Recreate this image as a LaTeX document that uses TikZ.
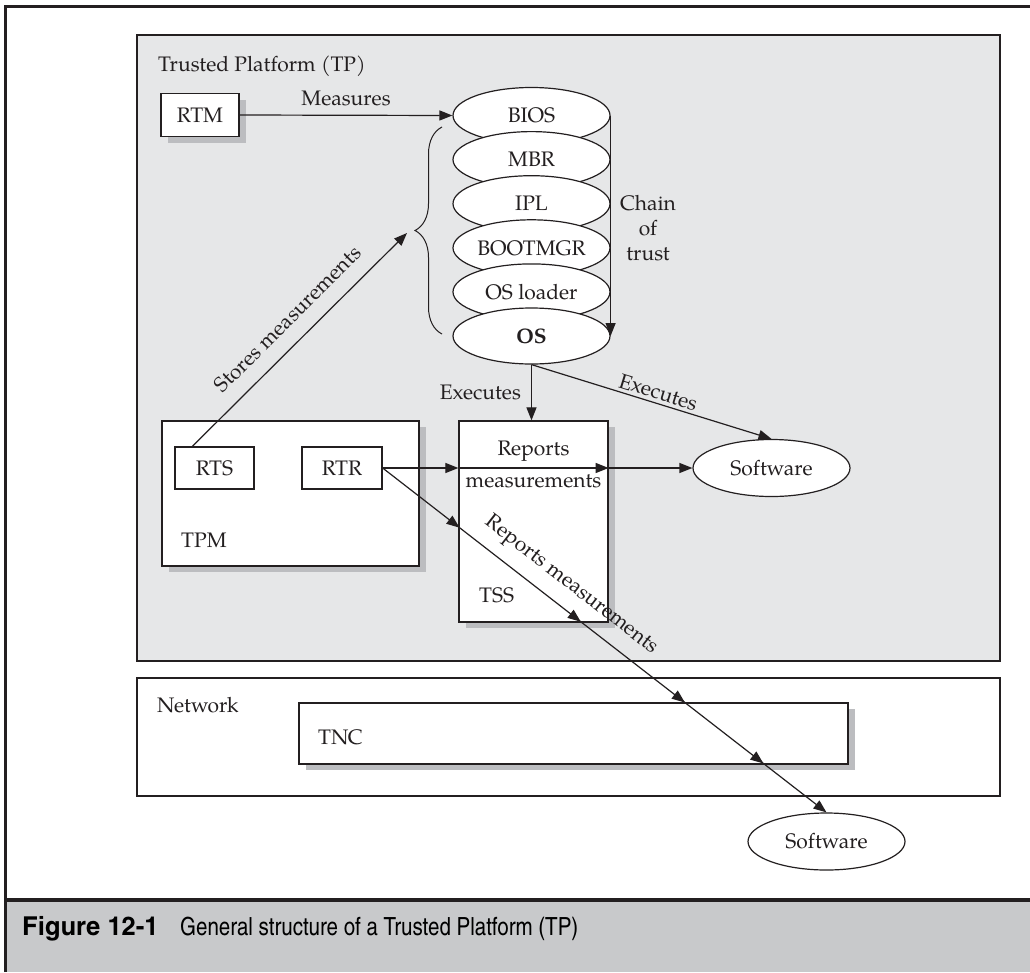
\documentclass[tikz,border=0pt]{standalone}
\usepackage{fontspec}
\usepackage{graphicx}
\setmainfont{texgyrepagella}[Extension=.otf, UprightFont=*-regular, BoldFont=*-bold, ItalicFont=*-italic, BoldItalicFont=*-bolditalic]
\newfontfamily\capfont{texgyreheroscn}[Extension=.otf, UprightFont=*-regular, BoldFont=*-bold, ItalicFont=*-italic, BoldItalicFont=*-bolditalic]
\usetikzlibrary{arrows.meta, shapes.geometric, shadows, decorations.pathreplacing, decorations.markings, calc}

\definecolor{linec}{HTML}{231F20}
\definecolor{tpfill}{HTML}{E6E7E8}
\definecolor{shadowc}{HTML}{BCBDC0}
\definecolor{capfill}{HTML}{C8C9CB}

\tikzset{
 >={Triangle[length=13pt,width=10pt]},
 every node/.style={font=\fontsize{21}{25}\selectfont, text=linec},
 box/.style={draw=linec, fill=white, line width=1.3pt, rectangle, inner sep=0pt},
 shadowbox/.style={box, drop shadow={shadow xshift=7pt, shadow yshift=-6pt, fill=shadowc, opacity=1}},
 areabox/.style={draw=linec, line width=1.3pt, rectangle, inner sep=0pt},
 oval/.style={ellipse, draw=linec, fill=white, line width=1.2pt, inner sep=0pt, minimum width=157pt, minimum height=56pt},
 conn/.style={draw=linec, line width=1.2pt, ->},
 lbl/.style={inner sep=0pt},
}

\begin{document}
\begin{tikzpicture}[x=1pt, y=-1pt]
\useasboundingbox (0,0) rectangle (1030,972);
\fill[white] (0,0) rectangle (1030,972);

% caption band and outer frame
\fill[capfill] (5,900) rectangle (1030,972);
\draw[linec, line width=3.5pt] (5,900) -- (1030,900);
\draw[linec, line width=3pt] (5,972) -- (5,6) -- (1030,6);
\node[anchor=base west, inner sep=0pt, text=black, font=\capfont\fontsize{26}{30}\selectfont\bfseries] (figno) at (22,935) {\scalebox{1.2}[1]{Figure 12-1}};
\node[anchor=base west, inner sep=0pt, text=black, font=\capfont\fontsize{25}{30}\selectfont] (figcap) at (180,935) {General structure of a Trusted Platform (TP)};

% areas
\node[areabox, fill=tpfill, minimum width=863pt, minimum height=626pt] (TP) at (568.5,348) {};
\node[lbl, anchor=base west] (tplabel) at (158,71) {Trusted Platform (TP)};
\node[areabox, fill=white, minimum width=863pt, minimum height=118pt] (NET) at (568.5,737) {};
\node[lbl, anchor=west] (netlabel) at (157,705) {Network};

% boxes
\node[shadowbox, minimum width=78pt, minimum height=43pt] (RTM) at (200,115) {RTM};
\node[shadowbox, minimum width=257pt, minimum height=145pt] (TPM) at (290.5,493.5) {};
\node[lbl, anchor=west] (tpmlabel) at (181,540) {TPM};
\node[box, minimum width=79pt, minimum height=42pt] (RTS) at (214.5,468) {RTS};
\node[box, minimum width=80pt, minimum height=42pt] (RTR) at (342,468) {RTR};
\node[shadowbox, minimum width=149pt, minimum height=201pt] (TSS) at (533.5,521.5) {};
\node[lbl, anchor=west] (tsslabel) at (479,595) {TSS};
\node[shadowbox, minimum width=549pt, minimum height=61pt] (TNC) at (573.5,733.5) {};
\node[lbl, anchor=west] (tnclabel) at (318,737) {TNC};

% boot chain
\node[oval] (BIOS) at (531.5,115.5) {BIOS};
\node[oval] (MBR) at (531.5,159.6) {MBR};
\node[oval] (IPL) at (531.5,203.7) {IPL};
\node[oval] (BOOT) at (531.5,247.8) {BOOTMGR};
\node[oval] (OSL) at (531.5,291.9) {OS loader};
\node[oval] (OS) at (531.5,336) {\textbf{OS}};
\node[lbl, align=center] (chain) at (648,228) {Chain\\of\\trust};

% software
\node[oval, minimum height=57pt] (SW1) at (771.5,468) {Software};
\node[oval, minimum height=57pt] (SW2) at (826.5,841.5) {Software};

% brace
\coordinate (braceB) at (442,334);
\coordinate (braceT) at (442,127);
\coordinate (braceTip) at (407,233);
\draw[linec, line width=1pt, decorate, decoration={brace, amplitude=27pt}] (braceB) -- (braceT);

% connectors
\draw[conn] (RTM.east) -- (BIOS.west) node[lbl, midway, above=9pt] {Measures};
\draw[conn] (BIOS.east) -- (OS.east);
\path (RTS.north west) ++(18,0) coordinate (rtsTop);
\draw[conn] (rtsTop) -- (braceTip) node[lbl, pos=0.52, sloped, above=15pt] {Stores measurements};
\draw[conn] (OS.south) -- (OS.south |- TSS.north) node[lbl, midway, left=10pt] {Executes};
\draw[conn] (OS.south) -- (SW1.north) node[lbl, pos=0.515, sloped, above=3pt] {Executes};
\draw[conn] (RTR.east) -- (RTR.east -| TSS.west);
\draw[conn] (RTR.east -| TSS.west) -- (RTR.east -| TSS.east)
  node[lbl, midway, above=6pt] {Reports}
  node[lbl, midway, below=6pt] {measurements};
\draw[conn] (RTR.east -| TSS.east) -- (SW1.west);
\draw[conn, postaction={decorate}, decoration={markings,
   mark=at position 0.1732 with {\arrow{>}},
   mark=at position 0.4464 with {\arrow{>}},
   mark=at position 0.681 with {\arrow{>}},
   mark=at position 0.858 with {\arrow{>}}}]
  (RTR.east) -- (SW2.north) node[lbl, pos=0.394, sloped, above=12pt] {Reports measurements};
\end{tikzpicture}
\end{document}
